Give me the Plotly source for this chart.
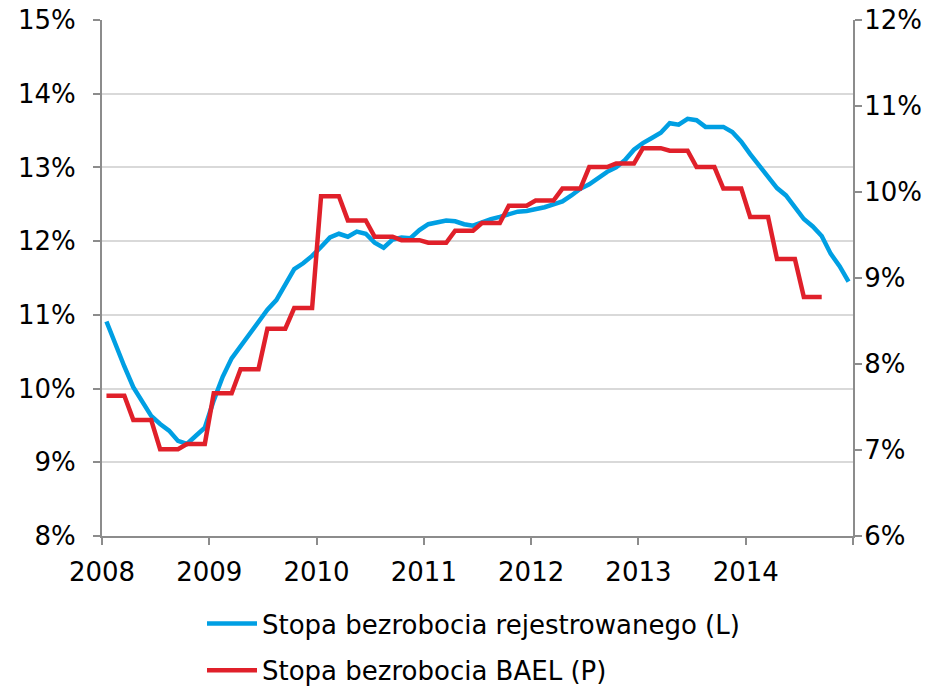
import plotly.graph_objects as go

# Monthly data Jan 2008 - Dec 2014 (registered unemployment, left axis, %)
registered = [
    10.91, 10.59, 10.30, 10.02, 9.81, 9.63, 9.52, 9.43, 9.29, 9.25, 9.36, 9.47,   # 2008
    9.84, 10.16, 10.41, 10.57, 10.73, 10.91, 11.07, 11.20, 11.42, 11.62, 11.70, 11.80,  # 2009
    11.92, 12.05, 12.10, 12.06, 12.13, 12.10, 11.98, 11.91, 12.02, 12.05, 12.04, 12.15,  # 2010
    12.23, 12.25, 12.28, 12.27, 12.23, 12.21, 12.26, 12.30, 12.33, 12.37, 12.40, 12.41,  # 2011
    12.43, 12.46, 12.50, 12.54, 12.62, 12.71, 12.77, 12.86, 12.94, 13.00, 13.10, 13.24,  # 2012
    13.33, 13.40, 13.47, 13.60, 13.58, 13.66, 13.64, 13.55, 13.55, 13.55, 13.48, 13.35,  # 2013
    13.18, 13.03, 12.86, 12.72, 12.62, 12.45, 12.30, 12.20, 12.07, 11.83, 11.66, 11.45,  # 2014
]

# Quarterly LFS (BAEL) rate, right axis, %, Q1 2008 - Q3 2014
bael_quarterly = [
    7.63, 7.35, 7.01, 7.07,
    7.66, 7.94, 8.41, 8.65,
    9.95, 9.67, 9.48, 9.44,
    9.41, 9.55, 9.64, 9.84,
    9.90, 10.04, 10.29, 10.33,
    10.51, 10.48, 10.29, 10.04,
    9.71, 9.22, 8.78,
]

years = [2008, 2009, 2010, 2011, 2012, 2013, 2014, 2015]
year_labels = ["2008", "2009", "2010", "2011", "2012", "2013", "2014", ""]
left_ticks = [8, 9, 10, 11, 12, 13, 14, 15]
right_ticks = [6, 7, 8, 9, 10, 11, 12]

name_reg = "Stopa bezrobocia rejestrowanego (L)"
name_bael = "Stopa bezrobocia BAEL (P)"

# month positions at category centres
x_reg = [2008 + (i + 0.5) / 12 for i in range(len(registered))]
bael_monthly = [v for v in bael_quarterly for _ in range(3)]
x_bael = [2008 + (i + 0.5) / 12 for i in range(len(bael_monthly))]

BLUE = "#009fe3"
RED = "#e0202a"
AXIS = "#8c8c8c"
GRID = "#d9d9d9"
FONT = "DejaVu Sans, Verdana, sans-serif"

fig = go.Figure()
fig.add_trace(go.Scatter(x=x_reg, y=registered, mode="lines", name=name_reg,
                         line=dict(color=BLUE, width=4.5), yaxis="y", legendgroup="a"))
fig.add_trace(go.Scatter(x=x_bael, y=bael_monthly, mode="lines", name=name_bael,
                         line=dict(color=RED, width=4.5), yaxis="y2", legendgroup="b"))

fig.update_layout(
    width=945, height=687,
    margin=dict(l=102, r=92, t=20, b=151, autoexpand=False),
    paper_bgcolor="white", plot_bgcolor="white",
    font=dict(family=FONT, size=26, color="black"),
    showlegend=True,
    legend=dict(orientation="v", xref="container", yref="container",
                x=202 / 945, xanchor="left", y=1 - 600 / 687, yanchor="top",
                font=dict(size=26), tracegroupgap=10, itemwidth=50,
                bgcolor="rgba(0,0,0,0)"),
    xaxis=dict(range=[2008, 2015], tickmode="array", tickvals=years, ticktext=year_labels,
               showgrid=False, showline=True, linecolor=AXIS, linewidth=2,
               ticks="outside", ticklen=7, tickcolor=AXIS, tickwidth=2,
               ticklabelstandoff=5, zeroline=False, automargin=False),
    yaxis=dict(range=[8, 15], tickmode="array", tickvals=left_ticks,
               ticktext=[f"{v}%" for v in left_ticks],
               showgrid=True, gridcolor=GRID, gridwidth=1.5,
               showline=True, linecolor=AXIS, linewidth=2,
               ticks="outside", ticklen=7, tickcolor=AXIS, tickwidth=2,
               ticklabelstandoff=12, zeroline=False, automargin=False,
               ticklabeloverflow="allow"),
    yaxis2=dict(range=[6, 12], tickmode="array", tickvals=right_ticks,
                ticktext=[f"{v}%" for v in right_ticks],
                overlaying="y", side="right", showgrid=False,
                showline=True, linecolor=AXIS, linewidth=2,
                ticks="outside", ticklen=7, tickcolor=AXIS, tickwidth=2,
                ticklabelstandoff=-3, zeroline=False, automargin=False,
                ticklabeloverflow="allow"),
)

# remove the browser's default 8px page margin so the figure fills the window
fig.write_html("out.html",
               config={"displayModeBar": False},
               post_script="document.body.style.margin='0';document.body.style.overflow='hidden';")
